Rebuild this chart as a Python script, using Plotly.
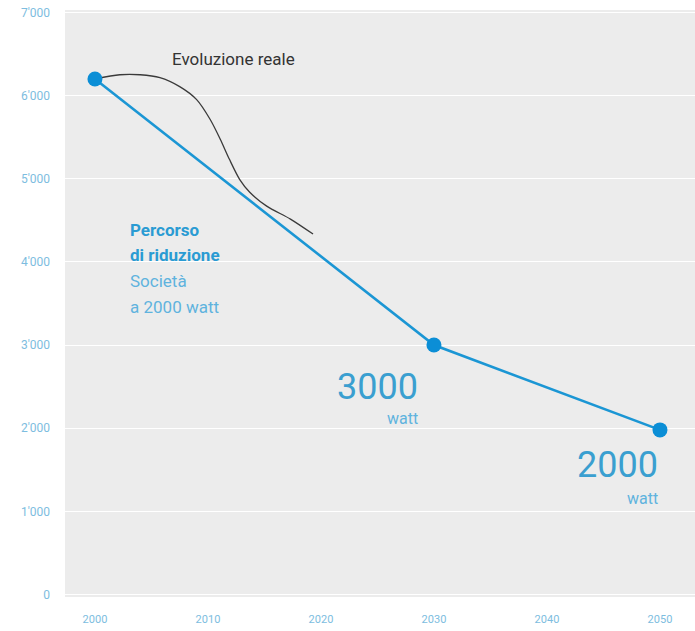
import plotly.graph_objects as go

# Target path (Società a 2000 watt)
path_years = [2000, 2030, 2050]
path_watt = [6200, 3000, 1980]

# Real evolution
real_years = [2000.0, 2002.2, 2004.0, 2005.75, 2007.5, 2009.0, 2010.2, 2011.1, 2011.9,
              2012.8, 2013.7, 2015.2, 2017.3, 2019.3]
real_watt = [6200, 6251, 6251, 6216, 6108, 5952, 5713, 5473, 5234,
             4994, 4838, 4671, 4515, 4335]

y_ticks = [0, 1000, 2000, 3000, 4000, 5000, 6000, 7000]
y_ticktext = ["0", "1'000", "2'000", "3'000", "4'000", "5'000", "6'000", "7'000"]
x_ticks = [2000, 2010, 2020, 2030, 2040, 2050]

BLUE = "#1b96d4"
TICK = "#7dbde0"
FONT = "Roboto"

fig = go.Figure()
fig.add_trace(go.Scatter(
    x=real_years, y=real_watt, mode="lines",
    line=dict(color="#3a3a3a", width=1.3, shape="spline", smoothing=0.8),
    hoverinfo="skip", showlegend=False))
fig.add_trace(go.Scatter(
    x=path_years, y=path_watt, mode="lines+markers",
    line=dict(color=BLUE, width=2.6),
    marker=dict(color="#0b8ed6", size=15),
    showlegend=False))

annos = [
    dict(x=2006.6, y=6440, text="Evoluzione reale", xanchor="left", yanchor="middle",
         font=dict(size=17, color="#333333", family=FONT)),
    dict(x=2002.9, y=4380, text="<b>Percorso</b>", xanchor="left", yanchor="middle",
         font=dict(size=17, color="#2a9bd3", family=FONT)),
    dict(x=2002.9, y=4080, text="<b>di riduzione</b>", xanchor="left", yanchor="middle",
         font=dict(size=17, color="#2a9bd3", family=FONT)),
    dict(x=2002.9, y=3770, text="Società", xanchor="left", yanchor="middle",
         font=dict(size=17, color="#5fb3de", family=FONT)),
    dict(x=2002.9, y=3460, text="a 2000 watt", xanchor="left", yanchor="middle",
         font=dict(size=17, color="#5fb3de", family=FONT)),
    dict(x=2028.8, y=2500, text="3000", xanchor="right", yanchor="middle",
         font=dict(size=36, color="#3a9fd0", family=FONT)),
    dict(x=2028.8, y=2120, text="watt", xanchor="right", yanchor="middle",
         font=dict(size=16, color="#5fb3de", family=FONT)),
    dict(x=2050.0, y=1560, text="2000", xanchor="right", yanchor="middle",
         font=dict(size=36, color="#3a9fd0", family=FONT)),
    dict(x=2050.0, y=1160, text="watt", xanchor="right", yanchor="middle",
         font=dict(size=16, color="#5fb3de", family=FONT)),
]
for a in annos:
    fig.add_annotation(showarrow=False, xref="x", yref="y", **a)

fig.update_layout(
    width=695, height=631,
    margin=dict(l=65, r=0, t=10, b=34),
    paper_bgcolor="white", plot_bgcolor="#ececec",
    font=dict(family=FONT),
    xaxis=dict(range=[1997.35, 2053.1], tickvals=x_ticks, showgrid=False, zeroline=False,
               automargin=False, ticks="", ticklabelstandoff=14,
               tickfont=dict(size=11, color=TICK, family=FONT)),
    yaxis=dict(range=[-30, 7030], tickvals=y_ticks, ticktext=y_ticktext,
               showgrid=True, gridcolor="white", gridwidth=1.2, zeroline=False,
               automargin=False, ticks="", ticklabelstandoff=14,
               tickfont=dict(size=12, color=TICK, family=FONT)),
)

fig.write_html("out.html",
               config={"displayModeBar": False},
               post_script="document.body.style.margin='0';document.body.style.overflow='hidden';")
